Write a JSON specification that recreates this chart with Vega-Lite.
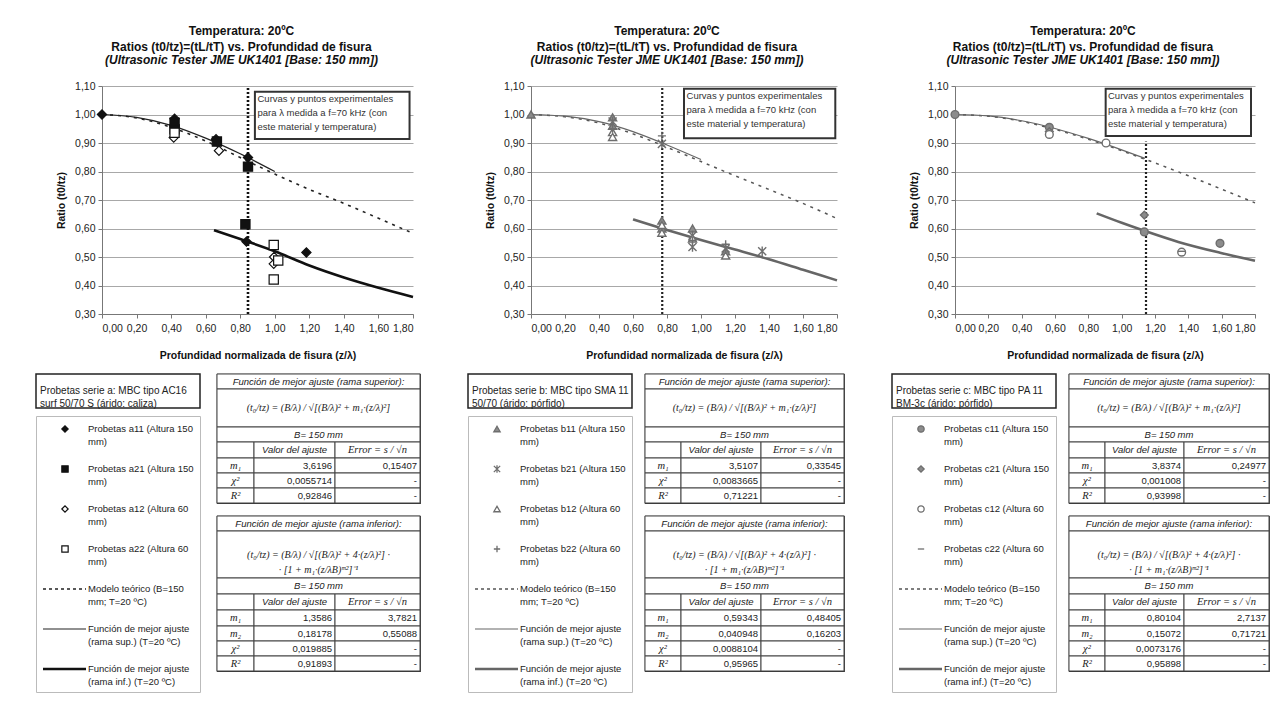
{
"$schema": "https://vega.github.io/schema/vega-lite/v6.json",
"background": "white",
"padding": {"left": 33, "top": 24, "right": 5, "bottom": 5},
"config": {
  "font": "Liberation Sans",
  "view": {"stroke": null},
  "axis": {"labelFont": "Liberation Sans", "labelFontSize": 10.5, "labelColor": "#222", "labelOverlap": false, "tickCount": 20, "titleFont": "Liberation Sans", "titleFontSize": 10.5, "titleFontWeight": "bold", "titleColor": "#111", "domainColor": "#777", "tickColor": "#777", "tickSize": 4, "gridColor": "#a8a8a8", "gridWidth": 1},
  "axisX": {"grid": false, "labelPadding": 5, "titlePadding": 17},
  "axisY": {"grid": true, "labelPadding": 3, "titlePadding": 8},
  "title": {"font": "Liberation Sans", "fontSize": 12, "fontWeight": "bold", "color": "#111", "lineHeight": 16, "subtitleFont": "Liberation Sans", "subtitleFontSize": 12, "subtitleFontWeight": "bold", "subtitleFontStyle": "italic", "subtitleColor": "#111", "subtitlePadding": 1, "subtitleLineHeight": 15, "offset": 14},
  "text": {"font": "Liberation Sans", "fontSize": 9.5, "color": "#222"}
},
"datasets": {
  "pts": [
    {"p":"a","s":"a11","z":0,"r":1.0},
    {"p":"a","s":"a11","z":0.42,"r":0.985},
    {"p":"a","s":"a11","z":0.42,"r":0.96},
    {"p":"a","s":"a11","z":0.66,"r":0.913},
    {"p":"a","s":"a11","z":0.845,"r":0.849},
    {"p":"a","s":"a11","z":0.836,"r":0.554},
    {"p":"a","s":"a11","z":1.183,"r":0.516},
    {"p":"a","s":"a21","z":0.42,"r":0.971},
    {"p":"a","s":"a21","z":0.42,"r":0.948},
    {"p":"a","s":"a21","z":0.665,"r":0.905},
    {"p":"a","s":"a21","z":0.845,"r":0.817},
    {"p":"a","s":"a21","z":0.83,"r":0.615},
    {"p":"a","s":"a12","z":0.415,"r":0.919},
    {"p":"a","s":"a12","z":0.677,"r":0.873},
    {"p":"a","s":"a12","z":0.994,"r":0.476},
    {"p":"a","s":"a12","z":0.996,"r":0.5},
    {"p":"a","s":"a22","z":0.42,"r":0.936},
    {"p":"a","s":"a22","z":0.994,"r":0.542},
    {"p":"a","s":"a22","z":0.994,"r":0.421},
    {"p":"a","s":"a22","z":1.02,"r":0.488},
    {"p":"b","s":"b11","z":0,"r":1.0},
    {"p":"b","s":"b11","z":0.48,"r":0.99},
    {"p":"b","s":"b11","z":0.48,"r":0.96},
    {"p":"b","s":"b11","z":0.77,"r":0.628},
    {"p":"b","s":"b11","z":0.77,"r":0.6},
    {"p":"b","s":"b11","z":0.95,"r":0.6},
    {"p":"b","s":"b11","z":1.145,"r":0.52},
    {"p":"b","s":"b21","z":0.48,"r":0.975},
    {"p":"b","s":"b21","z":0.77,"r":0.897},
    {"p":"b","s":"b21","z":0.95,"r":0.575},
    {"p":"b","s":"b21","z":0.95,"r":0.535},
    {"p":"b","s":"b21","z":1.145,"r":0.53},
    {"p":"b","s":"b21","z":1.36,"r":0.52},
    {"p":"b","s":"b12","z":0.48,"r":0.938},
    {"p":"b","s":"b12","z":0.48,"r":0.921},
    {"p":"b","s":"b12","z":0.77,"r":0.612},
    {"p":"b","s":"b12","z":0.77,"r":0.585},
    {"p":"b","s":"b12","z":0.95,"r":0.565},
    {"p":"b","s":"b12","z":1.145,"r":0.505},
    {"p":"b","s":"b22","z":0.48,"r":0.95},
    {"p":"b","s":"b22","z":0.77,"r":0.925},
    {"p":"b","s":"b22","z":0.95,"r":0.558},
    {"p":"b","s":"b22","z":1.145,"r":0.545},
    {"p":"c","s":"c11","z":0,"r":1.0},
    {"p":"c","s":"c11","z":0.566,"r":0.955},
    {"p":"c","s":"c11","z":1.136,"r":0.588},
    {"p":"c","s":"c11","z":1.59,"r":0.548},
    {"p":"c","s":"c21","z":0.566,"r":0.94},
    {"p":"c","s":"c21","z":1.136,"r":0.647},
    {"p":"c","s":"c12","z":0.566,"r":0.93},
    {"p":"c","s":"c12","z":0.906,"r":0.9},
    {"p":"c","s":"c12","z":1.36,"r":0.517},
    {"p":"c","s":"c22","z":1.36,"r":0.52}
  ],
  "curves": [
    {"p":"a","c":"model","z":0,"r":1.0},{"p":"a","c":"model","z":0.2,"r":0.988},{"p":"a","c":"model","z":0.4,"r":0.955},{"p":"a","c":"model","z":0.6,"r":0.907},{"p":"a","c":"model","z":0.8,"r":0.849},{"p":"a","c":"model","z":1.0,"r":0.791},{"p":"a","c":"model","z":1.2,"r":0.737},{"p":"a","c":"model","z":1.4,"r":0.688},{"p":"a","c":"model","z":1.6,"r":0.636},{"p":"a","c":"model","z":1.8,"r":0.583},
    {"p":"a","c":"sup","z":0,"r":1.0},{"p":"a","c":"sup","z":0.2,"r":0.99},{"p":"a","c":"sup","z":0.4,"r":0.962},{"p":"a","c":"sup","z":0.6,"r":0.917},{"p":"a","c":"sup","z":0.8,"r":0.862},{"p":"a","c":"sup","z":1.0,"r":0.8},
    {"p":"a","c":"inf","z":0.648,"r":0.594},{"p":"a","c":"inf","z":0.8,"r":0.563},{"p":"a","c":"inf","z":1.0,"r":0.52},{"p":"a","c":"inf","z":1.2,"r":0.47},{"p":"a","c":"inf","z":1.4,"r":0.428},{"p":"a","c":"inf","z":1.6,"r":0.392},{"p":"a","c":"inf","z":1.8,"r":0.36},
    {"p":"a","c":"vline","z":0.845,"r":0.3},{"p":"a","c":"vline","z":0.845,"r":1.1},
    {"p":"b","c":"model","z":0,"r":1.0},{"p":"b","c":"model","z":0.2,"r":0.992},{"p":"b","c":"model","z":0.4,"r":0.97},{"p":"b","c":"model","z":0.6,"r":0.932},{"p":"b","c":"model","z":0.8,"r":0.885},{"p":"b","c":"model","z":1.0,"r":0.835},{"p":"b","c":"model","z":1.2,"r":0.785},{"p":"b","c":"model","z":1.4,"r":0.737},{"p":"b","c":"model","z":1.6,"r":0.688},{"p":"b","c":"model","z":1.8,"r":0.635},
    {"p":"b","c":"sup","z":0,"r":1.0},{"p":"b","c":"sup","z":0.2,"r":0.994},{"p":"b","c":"sup","z":0.4,"r":0.975},{"p":"b","c":"sup","z":0.6,"r":0.94},{"p":"b","c":"sup","z":0.8,"r":0.893},{"p":"b","c":"sup","z":1.0,"r":0.842},
    {"p":"b","c":"inf","z":0.6,"r":0.632},{"p":"b","c":"inf","z":0.8,"r":0.595},{"p":"b","c":"inf","z":1.0,"r":0.56},{"p":"b","c":"inf","z":1.2,"r":0.526},{"p":"b","c":"inf","z":1.4,"r":0.492},{"p":"b","c":"inf","z":1.6,"r":0.455},{"p":"b","c":"inf","z":1.8,"r":0.418},
    {"p":"b","c":"vline","z":0.772,"r":0.3},{"p":"b","c":"vline","z":0.772,"r":1.1},
    {"p":"c","c":"model","z":0,"r":1.0},{"p":"c","c":"model","z":0.2,"r":0.994},{"p":"c","c":"model","z":0.4,"r":0.976},{"p":"c","c":"model","z":0.6,"r":0.948},{"p":"c","c":"model","z":0.8,"r":0.913},{"p":"c","c":"model","z":1.0,"r":0.873},{"p":"c","c":"model","z":1.2,"r":0.83},{"p":"c","c":"model","z":1.4,"r":0.785},{"p":"c","c":"model","z":1.6,"r":0.738},{"p":"c","c":"model","z":1.8,"r":0.69},
    {"p":"c","c":"sup","z":0,"r":1.0},{"p":"c","c":"sup","z":0.2,"r":0.995},{"p":"c","c":"sup","z":0.4,"r":0.978},{"p":"c","c":"sup","z":0.6,"r":0.951},{"p":"c","c":"sup","z":0.8,"r":0.916},{"p":"c","c":"sup","z":1.0,"r":0.876},{"p":"c","c":"sup","z":1.14,"r":0.846},
    {"p":"c","c":"inf","z":0.85,"r":0.653},{"p":"c","c":"inf","z":1.0,"r":0.62},{"p":"c","c":"inf","z":1.136,"r":0.592},{"p":"c","c":"inf","z":1.34,"r":0.553},{"p":"c","c":"inf","z":1.59,"r":0.515},{"p":"c","c":"inf","z":1.8,"r":0.487},
    {"p":"c","c":"vline","z":1.146,"r":0.3},{"p":"c","c":"vline","z":1.146,"r":0.905}
  ],
  "ser": [
    {"p":"a","txt":"Probetas serie a: MBC tipo AC16\nsurf 50/70 S (árido: caliza)"},
    {"p":"b","txt":"Probetas serie b: MBC tipo SMA 11\n50/70 (árido: pórfido)"},
    {"p":"c","txt":"Probetas serie c: MBC tipo PA 11\nBM-3c (árido: pórfido)"}
  ],
  "leg": [
    {"p":"a","k":"a11","txt":"Probetas a11 (Altura 150\nmm)"},
    {"p":"a","k":"a21","txt":"Probetas a21 (Altura 150\nmm)"},
    {"p":"a","k":"a12","txt":"Probetas a12 (Altura 60\nmm)"},
    {"p":"a","k":"a22","txt":"Probetas a22 (Altura 60\nmm)"},
    {"p":"b","k":"b11","txt":"Probetas b11 (Altura 150\nmm)"},
    {"p":"b","k":"b21","txt":"Probetas b21 (Altura 150\nmm)"},
    {"p":"b","k":"b12","txt":"Probetas b12 (Altura 60\nmm)"},
    {"p":"b","k":"b22","txt":"Probetas b22 (Altura 60\nmm)"},
    {"p":"c","k":"c11","txt":"Probetas c11 (Altura 150\nmm)"},
    {"p":"c","k":"c21","txt":"Probetas c21 (Altura 150\nmm)"},
    {"p":"c","k":"c12","txt":"Probetas c12 (Altura 60\nmm)"},
    {"p":"c","k":"c22","txt":"Probetas c22 (Altura 60\nmm)"},
    {"p":"*","k":"model","txt":"Modelo teórico (B=150\nmm; T=20 ºC)"},
    {"p":"*","k":"sup","txt":"Función de mejor ajuste\n(rama sup.) (T=20 ºC)"},
    {"p":"*","k":"inf","txt":"Función de mejor ajuste\n(rama inf.) (T=20 ºC)"}
  ],
  "tab": [
    {"p":"*","t":1,"r0":0,"r1":1,"c0":0,"c1":3,"kind":"hdr","txt":"Función de mejor ajuste (rama superior):"},
    {"p":"*","t":1,"r0":1,"r1":2,"c0":0,"c1":3,"kind":"fml","txt":"(t₀/tz) = (B/λ) / √[(B/λ)² + m₁·(z/λ)²]"},
    {"p":"*","t":1,"r0":2,"r1":3,"c0":0,"c1":3,"kind":"hdr","txt":"B= 150 mm"},
    {"p":"*","t":1,"r0":3,"r1":4,"c0":0,"c1":1,"kind":"sym","txt":""},
    {"p":"*","t":1,"r0":3,"r1":4,"c0":1,"c1":2,"kind":"hdr2","txt":"Valor del ajuste"},
    {"p":"*","t":1,"r0":3,"r1":4,"c0":2,"c1":3,"kind":"sym","txt":"Error = s / √n"},
    {"p":"*","t":1,"r0":4,"r1":5,"c0":0,"c1":1,"kind":"sym","txt":"m₁"},
    {"p":"*","t":1,"r0":5,"r1":6,"c0":0,"c1":1,"kind":"sym","txt":"χ²"},
    {"p":"*","t":1,"r0":6,"r1":7,"c0":0,"c1":1,"kind":"sym","txt":"R²"},
    {"p":"*","t":2,"r0":0,"r1":1,"c0":0,"c1":3,"kind":"hdr","txt":"Función de mejor ajuste (rama inferior):"},
    {"p":"*","t":2,"r0":1,"r1":2,"c0":0,"c1":3,"kind":"fml","txt":"(t₀/tz) = (B/λ) / √[(B/λ)² + 4·(z/λ)²] ·\n· [1 + m₁·(z/λB)ᵐ²]⁻¹"},
    {"p":"*","t":2,"r0":2,"r1":3,"c0":0,"c1":3,"kind":"hdr","txt":"B= 150 mm"},
    {"p":"*","t":2,"r0":3,"r1":4,"c0":0,"c1":1,"kind":"sym","txt":""},
    {"p":"*","t":2,"r0":3,"r1":4,"c0":1,"c1":2,"kind":"hdr2","txt":"Valor del ajuste"},
    {"p":"*","t":2,"r0":3,"r1":4,"c0":2,"c1":3,"kind":"sym","txt":"Error = s / √n"},
    {"p":"*","t":2,"r0":4,"r1":5,"c0":0,"c1":1,"kind":"sym","txt":"m₁"},
    {"p":"*","t":2,"r0":5,"r1":6,"c0":0,"c1":1,"kind":"sym","txt":"m₂"},
    {"p":"*","t":2,"r0":6,"r1":7,"c0":0,"c1":1,"kind":"sym","txt":"χ²"},
    {"p":"*","t":2,"r0":7,"r1":8,"c0":0,"c1":1,"kind":"sym","txt":"R²"},
    {"p":"a","t":1,"r0":4,"r1":5,"c0":1,"c1":2,"kind":"num","txt":"3,6196"},
    {"p":"a","t":1,"r0":4,"r1":5,"c0":2,"c1":3,"kind":"num","txt":"0,15407"},
    {"p":"a","t":1,"r0":5,"r1":6,"c0":1,"c1":2,"kind":"num","txt":"0,0055714"},
    {"p":"a","t":1,"r0":5,"r1":6,"c0":2,"c1":3,"kind":"num","txt":"-"},
    {"p":"a","t":1,"r0":6,"r1":7,"c0":1,"c1":2,"kind":"num","txt":"0,92846"},
    {"p":"a","t":1,"r0":6,"r1":7,"c0":2,"c1":3,"kind":"num","txt":"-"},
    {"p":"a","t":2,"r0":4,"r1":5,"c0":1,"c1":2,"kind":"num","txt":"1,3586"},
    {"p":"a","t":2,"r0":4,"r1":5,"c0":2,"c1":3,"kind":"num","txt":"3,7821"},
    {"p":"a","t":2,"r0":5,"r1":6,"c0":1,"c1":2,"kind":"num","txt":"0,18178"},
    {"p":"a","t":2,"r0":5,"r1":6,"c0":2,"c1":3,"kind":"num","txt":"0,55088"},
    {"p":"a","t":2,"r0":6,"r1":7,"c0":1,"c1":2,"kind":"num","txt":"0,019885"},
    {"p":"a","t":2,"r0":6,"r1":7,"c0":2,"c1":3,"kind":"num","txt":"-"},
    {"p":"a","t":2,"r0":7,"r1":8,"c0":1,"c1":2,"kind":"num","txt":"0,91893"},
    {"p":"a","t":2,"r0":7,"r1":8,"c0":2,"c1":3,"kind":"num","txt":"-"},
    {"p":"b","t":1,"r0":4,"r1":5,"c0":1,"c1":2,"kind":"num","txt":"3,5107"},
    {"p":"b","t":1,"r0":4,"r1":5,"c0":2,"c1":3,"kind":"num","txt":"0,33545"},
    {"p":"b","t":1,"r0":5,"r1":6,"c0":1,"c1":2,"kind":"num","txt":"0,0083665"},
    {"p":"b","t":1,"r0":5,"r1":6,"c0":2,"c1":3,"kind":"num","txt":"-"},
    {"p":"b","t":1,"r0":6,"r1":7,"c0":1,"c1":2,"kind":"num","txt":"0,71221"},
    {"p":"b","t":1,"r0":6,"r1":7,"c0":2,"c1":3,"kind":"num","txt":"-"},
    {"p":"b","t":2,"r0":4,"r1":5,"c0":1,"c1":2,"kind":"num","txt":"0,59343"},
    {"p":"b","t":2,"r0":4,"r1":5,"c0":2,"c1":3,"kind":"num","txt":"0,48405"},
    {"p":"b","t":2,"r0":5,"r1":6,"c0":1,"c1":2,"kind":"num","txt":"0,040948"},
    {"p":"b","t":2,"r0":5,"r1":6,"c0":2,"c1":3,"kind":"num","txt":"0,16203"},
    {"p":"b","t":2,"r0":6,"r1":7,"c0":1,"c1":2,"kind":"num","txt":"0,0088104"},
    {"p":"b","t":2,"r0":6,"r1":7,"c0":2,"c1":3,"kind":"num","txt":"-"},
    {"p":"b","t":2,"r0":7,"r1":8,"c0":1,"c1":2,"kind":"num","txt":"0,95965"},
    {"p":"b","t":2,"r0":7,"r1":8,"c0":2,"c1":3,"kind":"num","txt":"-"},
    {"p":"c","t":1,"r0":4,"r1":5,"c0":1,"c1":2,"kind":"num","txt":"3,8374"},
    {"p":"c","t":1,"r0":4,"r1":5,"c0":2,"c1":3,"kind":"num","txt":"0,24977"},
    {"p":"c","t":1,"r0":5,"r1":6,"c0":1,"c1":2,"kind":"num","txt":"0,001008"},
    {"p":"c","t":1,"r0":5,"r1":6,"c0":2,"c1":3,"kind":"num","txt":"-"},
    {"p":"c","t":1,"r0":6,"r1":7,"c0":1,"c1":2,"kind":"num","txt":"0,93998"},
    {"p":"c","t":1,"r0":6,"r1":7,"c0":2,"c1":3,"kind":"num","txt":"-"},
    {"p":"c","t":2,"r0":4,"r1":5,"c0":1,"c1":2,"kind":"num","txt":"0,80104"},
    {"p":"c","t":2,"r0":4,"r1":5,"c0":2,"c1":3,"kind":"num","txt":"2,7137"},
    {"p":"c","t":2,"r0":5,"r1":6,"c0":1,"c1":2,"kind":"num","txt":"0,15072"},
    {"p":"c","t":2,"r0":5,"r1":6,"c0":2,"c1":3,"kind":"num","txt":"0,71721"},
    {"p":"c","t":2,"r0":6,"r1":7,"c0":1,"c1":2,"kind":"num","txt":"0,0073176"},
    {"p":"c","t":2,"r0":6,"r1":7,"c0":2,"c1":3,"kind":"num","txt":"-"},
    {"p":"c","t":2,"r0":7,"r1":8,"c0":1,"c1":2,"kind":"num","txt":"0,95898"},
    {"p":"c","t":2,"r0":7,"r1":8,"c0":2,"c1":3,"kind":"num","txt":"-"}
  ]
},
"spacing": 11,
"vconcat": [
{
"spacing": 66,
"hconcat": [
{
"spacing": 16,
"hconcat": [
{"width": 1, "height": 1, "view": {"stroke": "white"}, "data": {"values": [{}]}, "mark": {"type": "point", "opacity": 0}, "encoding": {}},
{
 "width": 311, "height": 228,
 "title": {"text": ["Temperatura: 20ºC", "Ratios (t0/tz)=(tL/tT) vs. Profundidad de fisura"], "subtitle": "(Ultrasonic Tester JME UK1401 [Base: 150 mm])", "dx": -16},
 "layer": [
  {"data": {"name": "curves"}, "transform": [{"filter": "datum.p == 'a' && datum.c == 'model'"}],
   "mark": {"type": "line", "color": "#222", "strokeWidth": 1.6, "strokeDash": [3, 5], "interpolate": "monotone"},
   "encoding": {
     "x": {"field": "z", "type": "quantitative", "scale": {"domain": [0, 1.8], "nice": false, "zero": false}, "axis": {"values": [0,0.2,0.4,0.6,0.8,1,1.2,1.4,1.6,1.8], "tickCount": 20, "labelExpr": "replace(format(datum.value, '.2f'), '.', ',')", "title": "Profundidad normalizada de fisura (z/λ)"}},
     "y": {"field": "r", "type": "quantitative", "scale": {"domain": [0.3, 1.1], "nice": false, "zero": false}, "axis": {"values": [0.3,0.4,0.5,0.6,0.7,0.8,0.9,1,1.1], "tickCount": 20, "labelExpr": "replace(format(datum.value, '.2f'), '.', ',')", "title": "Ratio (t0/tz)"}}
   }},
  {"data": {"name": "curves"}, "transform": [{"filter": "datum.p == 'a' && datum.c == 'sup'"}],
   "mark": {"type": "line", "color": "#222", "strokeWidth": 1.2, "interpolate": "monotone"},
   "encoding": {"x": {"field": "z", "type": "quantitative"}, "y": {"field": "r", "type": "quantitative"}}},
  {"data": {"name": "curves"}, "transform": [{"filter": "datum.p == 'a' && datum.c == 'inf'"}],
   "mark": {"type": "line", "color": "#111", "strokeWidth": 2.6, "interpolate": "monotone"},
   "encoding": {"x": {"field": "z", "type": "quantitative"}, "y": {"field": "r", "type": "quantitative"}}},
  {"data": {"name": "curves"}, "transform": [{"filter": "datum.p == 'a' && datum.c == 'vline'"}],
   "mark": {"type": "line", "color": "#111", "strokeWidth": 2.6, "strokeDash": [2, 2]},
   "encoding": {"x": {"field": "z", "type": "quantitative"}, "y": {"field": "r", "type": "quantitative"}}},
  {"data": {"name": "pts"}, "transform": [{"filter": "datum.p == 'a'"}],
   "mark": {"type": "point", "filled": true, "size": 85, "strokeWidth": 1.2, "opacity": 1},
   "encoding": {"x": {"field": "z", "type": "quantitative"}, "y": {"field": "r", "type": "quantitative"},
     "shape": {"field": "s", "type": "nominal", "legend": null, "scale": {"domain": ["a11","a21","a12","a22","b11","b21","b12","b22","c11","c21","c12","c22"], "range": ["diamond","square","diamond","square","triangle-up","M-1,-1L1,1M1,-1L-1,1M0,-1.2V1.2","triangle-up","M-1,0H1M0,-1V1","circle","diamond","circle","stroke"]}},
     "fill": {"field": "s", "type": "nominal", "legend": null, "scale": {"domain": ["a11","a21","a12","a22","b11","b21","b12","b22","c11","c21","c12","c22"], "range": ["#111111","#111111","#ffffff","#ffffff","#8c8c8c","transparent","#ffffff","transparent","#8c8c8c","#8c8c8c","#ffffff","transparent"]}},
     "stroke": {"field": "s", "type": "nominal", "legend": null, "scale": {"domain": ["a11","a21","a12","a22","b11","b21","b12","b22","c11","c21","c12","c22"], "range": ["#111111","#111111","#111111","#111111","#6e6e6e","#6e6e6e","#6e6e6e","#6e6e6e","#6e6e6e","#6e6e6e","#6e6e6e","#6e6e6e"]}}}},
  {"data": {"values": [{}]}, "mark": {"type": "rect", "fill": "white", "stroke": "#333", "strokeWidth": 2},
   "encoding": {"x": {"datum": 0.885, "type": "quantitative"}, "x2": {"datum": 1.78}, "y": {"datum": 1.08, "type": "quantitative"}, "y2": {"datum": 0.914}}},
  {"data": {"values": [{}]}, "mark": {"type": "text", "text": ["Curvas y puntos experimentales", "para λ medida a f=70 kHz (con", "este material y temperatura)"], "align": "left", "baseline": "top", "fontSize": 9.5, "lineHeight": 14, "color": "#333"},
   "encoding": {"x": {"datum": 0.9, "type": "quantitative"}, "y": {"datum": 1.073, "type": "quantitative"}}}
 ]
}
]
},
{
 "width": 306, "height": 228,
 "title": {"text": ["Temperatura: 20ºC", "Ratios (t0/tz)=(tL/tT) vs. Profundidad de fisura"], "subtitle": "(Ultrasonic Tester JME UK1401 [Base: 150 mm])", "dx": -17},
 "layer": [
  {"data": {"name": "curves"}, "transform": [{"filter": "datum.p == 'b' && datum.c == 'model'"}],
   "mark": {"type": "line", "color": "#555", "strokeWidth": 1.5, "strokeDash": [3, 5], "interpolate": "monotone"},
   "encoding": {
     "x": {"field": "z", "type": "quantitative", "scale": {"domain": [0, 1.8], "nice": false, "zero": false}, "axis": {"values": [0,0.2,0.4,0.6,0.8,1,1.2,1.4,1.6,1.8], "tickCount": 20, "labelExpr": "replace(format(datum.value, '.2f'), '.', ',')", "title": "Profundidad normalizada de fisura (z/λ)"}},
     "y": {"field": "r", "type": "quantitative", "scale": {"domain": [0.3, 1.1], "nice": false, "zero": false}, "axis": {"values": [0.3,0.4,0.5,0.6,0.7,0.8,0.9,1,1.1], "tickCount": 20, "labelExpr": "replace(format(datum.value, '.2f'), '.', ',')", "title": "Ratio (t0/tz)"}}
   }},
  {"data": {"name": "curves"}, "transform": [{"filter": "datum.p == 'b' && datum.c == 'sup'"}],
   "mark": {"type": "line", "color": "#666", "strokeWidth": 1.2, "interpolate": "monotone"},
   "encoding": {"x": {"field": "z", "type": "quantitative"}, "y": {"field": "r", "type": "quantitative"}}},
  {"data": {"name": "curves"}, "transform": [{"filter": "datum.p == 'b' && datum.c == 'inf'"}],
   "mark": {"type": "line", "color": "#666", "strokeWidth": 2.6, "interpolate": "monotone"},
   "encoding": {"x": {"field": "z", "type": "quantitative"}, "y": {"field": "r", "type": "quantitative"}}},
  {"data": {"name": "curves"}, "transform": [{"filter": "datum.p == 'b' && datum.c == 'vline'"}],
   "mark": {"type": "line", "color": "#222", "strokeWidth": 2.2, "strokeDash": [2, 2]},
   "encoding": {"x": {"field": "z", "type": "quantitative"}, "y": {"field": "r", "type": "quantitative"}}},
  {"data": {"name": "pts"}, "transform": [{"filter": "datum.p == 'b'"}],
   "mark": {"type": "point", "filled": true, "size": 65, "strokeWidth": 1.4, "opacity": 1},
   "encoding": {"x": {"field": "z", "type": "quantitative"}, "y": {"field": "r", "type": "quantitative"},
     "shape": {"field": "s", "type": "nominal", "legend": null, "scale": {"domain": ["a11","a21","a12","a22","b11","b21","b12","b22","c11","c21","c12","c22"], "range": ["diamond","square","diamond","square","triangle-up","M-1,-1L1,1M1,-1L-1,1M0,-1.2V1.2","triangle-up","M-1,0H1M0,-1V1","circle","diamond","circle","stroke"]}},
     "fill": {"field": "s", "type": "nominal", "legend": null, "scale": {"domain": ["a11","a21","a12","a22","b11","b21","b12","b22","c11","c21","c12","c22"], "range": ["#111111","#111111","#ffffff","#ffffff","#8c8c8c","transparent","#ffffff","transparent","#8c8c8c","#8c8c8c","#ffffff","transparent"]}},
     "stroke": {"field": "s", "type": "nominal", "legend": null, "scale": {"domain": ["a11","a21","a12","a22","b11","b21","b12","b22","c11","c21","c12","c22"], "range": ["#111111","#111111","#111111","#111111","#6e6e6e","#6e6e6e","#6e6e6e","#6e6e6e","#6e6e6e","#6e6e6e","#6e6e6e","#6e6e6e"]}}}},
  {"data": {"values": [{}]}, "mark": {"type": "rect", "fill": "white", "stroke": "#333", "strokeWidth": 2},
   "encoding": {"x": {"datum": 0.9, "type": "quantitative"}, "x2": {"datum": 1.79}, "y": {"datum": 1.09, "type": "quantitative"}, "y2": {"datum": 0.917}}},
  {"data": {"values": [{}]}, "mark": {"type": "text", "text": ["Curvas y puntos experimentales", "para λ medida a f=70 kHz (con", "este material y temperatura)"], "align": "left", "baseline": "top", "fontSize": 9.5, "lineHeight": 14, "color": "#333"},
   "encoding": {"x": {"datum": 0.915, "type": "quantitative"}, "y": {"datum": 1.082, "type": "quantitative"}}}
 ]
},
{
 "width": 300, "height": 228,
 "title": {"text": ["Temperatura: 20ºC", "Ratios (t0/tz)=(tL/tT) vs. Profundidad de fisura"], "subtitle": "(Ultrasonic Tester JME UK1401 [Base: 150 mm])", "dx": -22},
 "layer": [
  {"data": {"name": "curves"}, "transform": [{"filter": "datum.p == 'c' && datum.c == 'model'"}],
   "mark": {"type": "line", "color": "#555", "strokeWidth": 1.5, "strokeDash": [3, 5], "interpolate": "monotone"},
   "encoding": {
     "x": {"field": "z", "type": "quantitative", "scale": {"domain": [0, 1.8], "nice": false, "zero": false}, "axis": {"values": [0,0.2,0.4,0.6,0.8,1,1.2,1.4,1.6,1.8], "tickCount": 20, "labelExpr": "replace(format(datum.value, '.2f'), '.', ',')", "title": "Profundidad normalizada de fisura (z/λ)"}},
     "y": {"field": "r", "type": "quantitative", "scale": {"domain": [0.3, 1.1], "nice": false, "zero": false}, "axis": {"values": [0.3,0.4,0.5,0.6,0.7,0.8,0.9,1,1.1], "tickCount": 20, "labelExpr": "replace(format(datum.value, '.2f'), '.', ',')", "title": "Ratio (t0/tz)"}}
   }},
  {"data": {"name": "curves"}, "transform": [{"filter": "datum.p == 'c' && datum.c == 'sup'"}],
   "mark": {"type": "line", "color": "#666", "strokeWidth": 1.2, "interpolate": "monotone"},
   "encoding": {"x": {"field": "z", "type": "quantitative"}, "y": {"field": "r", "type": "quantitative"}}},
  {"data": {"name": "curves"}, "transform": [{"filter": "datum.p == 'c' && datum.c == 'inf'"}],
   "mark": {"type": "line", "color": "#666", "strokeWidth": 2.6, "interpolate": "monotone"},
   "encoding": {"x": {"field": "z", "type": "quantitative"}, "y": {"field": "r", "type": "quantitative"}}},
  {"data": {"name": "curves"}, "transform": [{"filter": "datum.p == 'c' && datum.c == 'vline'"}],
   "mark": {"type": "line", "color": "#222", "strokeWidth": 2.2, "strokeDash": [2, 2]},
   "encoding": {"x": {"field": "z", "type": "quantitative"}, "y": {"field": "r", "type": "quantitative"}}},
  {"data": {"name": "pts"}, "transform": [{"filter": "datum.p == 'c'"}],
   "mark": {"type": "point", "filled": true, "size": 60, "strokeWidth": 1.4, "opacity": 1},
   "encoding": {"x": {"field": "z", "type": "quantitative"}, "y": {"field": "r", "type": "quantitative"},
     "shape": {"field": "s", "type": "nominal", "legend": null, "scale": {"domain": ["a11","a21","a12","a22","b11","b21","b12","b22","c11","c21","c12","c22"], "range": ["diamond","square","diamond","square","triangle-up","M-1,-1L1,1M1,-1L-1,1M0,-1.2V1.2","triangle-up","M-1,0H1M0,-1V1","circle","diamond","circle","stroke"]}},
     "fill": {"field": "s", "type": "nominal", "legend": null, "scale": {"domain": ["a11","a21","a12","a22","b11","b21","b12","b22","c11","c21","c12","c22"], "range": ["#111111","#111111","#ffffff","#ffffff","#8c8c8c","transparent","#ffffff","transparent","#8c8c8c","#8c8c8c","#ffffff","transparent"]}},
     "stroke": {"field": "s", "type": "nominal", "legend": null, "scale": {"domain": ["a11","a21","a12","a22","b11","b21","b12","b22","c11","c21","c12","c22"], "range": ["#111111","#111111","#111111","#111111","#6e6e6e","#6e6e6e","#6e6e6e","#6e6e6e","#6e6e6e","#6e6e6e","#6e6e6e","#6e6e6e"]}}}},
  {"data": {"values": [{}]}, "mark": {"type": "rect", "fill": "white", "stroke": "#333", "strokeWidth": 2},
   "encoding": {"x": {"datum": 0.904, "type": "quantitative"}, "x2": {"datum": 1.776}, "y": {"datum": 1.09, "type": "quantitative"}, "y2": {"datum": 0.925}}},
  {"data": {"values": [{}]}, "mark": {"type": "text", "text": ["Curvas y puntos experimentales", "para λ medida a f=70 kHz (con", "este material y temperatura)"], "align": "left", "baseline": "top", "fontSize": 9.5, "lineHeight": 14, "color": "#333"},
   "encoding": {"x": {"datum": 0.918, "type": "quantitative"}, "y": {"datum": 1.083, "type": "quantitative"}}}
 ]
}
]
},
{
"spacing": 45,
"hconcat": [
 {"spacing": 14, "hconcat": [
  {"spacing": 5, "vconcat": [
   {"width": 164, "height": 34, "view": {"stroke": "#222", "strokeWidth": 1.5}, "data": {"name": "ser"}, "transform": [{"filter": "datum.p == 'a'"}],
    "mark": {"type": "text", "align": "left", "baseline": "middle", "lineBreak": "\n", "lineHeight": 13, "fontSize": 10},
    "encoding": {"x": {"datum": 4, "type": "quantitative", "scale": {"domain": [0, 164], "range": [0, 164], "nice": false, "zero": false}, "axis": null}, "text": {"field": "txt"}}},
   {"width": 164, "height": 276, "view": {"stroke": "#bbb", "strokeWidth": 1}, "data": {"name": "leg"}, "transform": [{"filter": "datum.p == 'a' || datum.p == '*'"}],
    "layer": [
     {"transform": [{"filter": "datum.p != '*'"}], "mark": {"type": "point", "filled": true, "size": 40, "strokeWidth": 1.2, "opacity": 1},
      "encoding": {"x": {"datum": 29, "type": "quantitative", "scale": {"domain": [0, 164], "range": [0, 164], "nice": false, "zero": false}, "axis": null},
       "y": {"field": "k", "type": "nominal", "scale": {"type": "point", "domain": ["a11","a21","a12","a22","model","sup","inf"], "range": [13, 253], "padding": 0}, "axis": null},
       "shape": {"field": "k", "type": "nominal", "legend": null, "scale": {"domain": ["a11","a21","a12","a22","b11","b21","b12","b22","c11","c21","c12","c22"], "range": ["diamond","square","diamond","square","triangle-up","M-1,-1L1,1M1,-1L-1,1M0,-1.2V1.2","triangle-up","M-1,0H1M0,-1V1","circle","diamond","circle","stroke"]}},
       "fill": {"field": "k", "type": "nominal", "legend": null, "scale": {"domain": ["a11","a21","a12","a22","b11","b21","b12","b22","c11","c21","c12","c22"], "range": ["#111111","#111111","#ffffff","#ffffff","#8c8c8c","transparent","#ffffff","transparent","#8c8c8c","#8c8c8c","#ffffff","transparent"]}},
       "stroke": {"field": "k", "type": "nominal", "legend": null, "scale": {"domain": ["a11","a21","a12","a22","b11","b21","b12","b22","c11","c21","c12","c22"], "range": ["#111111","#111111","#111111","#111111","#6e6e6e","#6e6e6e","#6e6e6e","#6e6e6e","#6e6e6e","#6e6e6e","#6e6e6e","#6e6e6e"]}}}},
     {"transform": [{"filter": "datum.k == 'model'"}], "mark": {"type": "rule", "color": "#222", "strokeWidth": 1.6, "strokeDash": [3, 3]},
      "encoding": {"x": {"datum": 7, "type": "quantitative"}, "x2": {"datum": 50}, "y": {"field": "k", "type": "nominal"}}},
     {"transform": [{"filter": "datum.k == 'sup'"}], "mark": {"type": "rule", "color": "#222", "strokeWidth": 1.1},
      "encoding": {"x": {"datum": 7, "type": "quantitative"}, "x2": {"datum": 50}, "y": {"field": "k", "type": "nominal"}}},
     {"transform": [{"filter": "datum.k == 'inf'"}], "mark": {"type": "rule", "color": "#111", "strokeWidth": 2.6},
      "encoding": {"x": {"datum": 7, "type": "quantitative"}, "x2": {"datum": 50}, "y": {"field": "k", "type": "nominal"}}},
     {"mark": {"type": "text", "align": "left", "baseline": "top", "dy": -5, "lineBreak": "\n", "lineHeight": 12.5, "fontSize": 9.5},
      "encoding": {"x": {"datum": 52, "type": "quantitative"}, "y": {"field": "k", "type": "nominal"}, "text": {"field": "txt"}}}
    ]}
  ]},
  {"spacing": 9, "vconcat": [
   {"width": 203, "height": 129, "view": {"stroke": "#333", "strokeWidth": 1.2}, "data": {"name": "tab"}, "transform": [{"filter": "(datum.p == 'a' || datum.p == '*') && datum.t == 1"}],
    "resolve": {"scale": {"x": "independent", "y": "independent"}},
    "layer": [
     {"mark": {"type": "rect", "fill": "white", "stroke": "#444", "strokeWidth": 1},
      "encoding": {"x": {"field": "c0", "type": "quantitative", "scale": {"domain": [0,1,2,3], "range": [0,37,118,203], "nice": false, "zero": false}, "axis": null}, "x2": {"field": "c1"},
       "y": {"field": "r0", "type": "quantitative", "scale": {"domain": [0,1,2,3,4,5,6,7], "range": [0,15,53,68,84,99,114,129], "nice": false, "zero": false}, "axis": null}, "y2": {"field": "r1"}}},
     {"transform": [{"filter": "datum.kind == 'hdr'"}], "mark": {"type": "text", "fontStyle": "italic", "fontSize": 9.5, "baseline": "middle"},
      "encoding": {"y": {"field": "r0", "type": "quantitative", "scale": {"domain": [0,1,2,3,4,5,6], "range": [7.5,34,60.5,76,91.5,106.5,121.5], "nice": false, "zero": false}, "axis": null}, "text": {"field": "txt"}}},
     {"transform": [{"filter": "datum.kind == 'fml'"}], "mark": {"type": "text", "font": "Liberation Serif", "fontStyle": "italic", "fontSize": 10, "baseline": "middle", "lineBreak": "\n", "lineHeight": 14},
      "encoding": {"y": {"field": "r0", "type": "quantitative", "scale": {"domain": [0,1,2,3,4,5,6], "range": [7.5,34,60.5,76,91.5,106.5,121.5], "nice": false, "zero": false}, "axis": null}, "text": {"field": "txt"}}},
     {"transform": [{"filter": "datum.kind == 'hdr2'"}], "mark": {"type": "text", "fontStyle": "italic", "fontSize": 9.5, "baseline": "middle"},
      "encoding": {"x": {"field": "c0", "type": "quantitative", "scale": {"domain": [0,1,2], "range": [18.5,77.5,160.5], "nice": false, "zero": false}, "axis": null},
       "y": {"field": "r0", "type": "quantitative", "scale": {"domain": [0,1,2,3,4,5,6], "range": [7.5,34,60.5,76,91.5,106.5,121.5], "nice": false, "zero": false}, "axis": null}, "text": {"field": "txt"}}},
     {"transform": [{"filter": "datum.kind == 'sym'"}], "mark": {"type": "text", "font": "Liberation Serif", "fontStyle": "italic", "fontSize": 10.5, "baseline": "middle"},
      "encoding": {"x": {"field": "c0", "type": "quantitative", "scale": {"domain": [0,1,2], "range": [18.5,77.5,160.5], "nice": false, "zero": false}, "axis": null},
       "y": {"field": "r0", "type": "quantitative", "scale": {"domain": [0,1,2,3,4,5,6], "range": [7.5,34,60.5,76,91.5,106.5,121.5], "nice": false, "zero": false}, "axis": null}, "text": {"field": "txt"}}},
     {"transform": [{"filter": "datum.kind == 'num'"}], "mark": {"type": "text", "fontSize": 9.5, "align": "right", "baseline": "middle", "dx": -3},
      "encoding": {"x": {"field": "c1", "type": "quantitative", "scale": {"domain": [0,1,2,3], "range": [0,37,118,203], "nice": false, "zero": false}, "axis": null},
       "y": {"field": "r0", "type": "quantitative", "scale": {"domain": [0,1,2,3,4,5,6], "range": [7.5,34,60.5,76,91.5,106.5,121.5], "nice": false, "zero": false}, "axis": null}, "text": {"field": "txt"}}}
    ]},
   {"width": 203, "height": 155, "view": {"stroke": "#333", "strokeWidth": 1.2}, "data": {"name": "tab"}, "transform": [{"filter": "(datum.p == 'a' || datum.p == '*') && datum.t == 2"}],
    "resolve": {"scale": {"x": "independent", "y": "independent"}},
    "layer": [
     {"mark": {"type": "rect", "fill": "white", "stroke": "#444", "strokeWidth": 1},
      "encoding": {"x": {"field": "c0", "type": "quantitative", "scale": {"domain": [0,1,2,3], "range": [0,37,118,203], "nice": false, "zero": false}, "axis": null}, "x2": {"field": "c1"},
       "y": {"field": "r0", "type": "quantitative", "scale": {"domain": [0,1,2,3,4,5,6,7,8], "range": [0,15,62,78,94,110,125,140,155], "nice": false, "zero": false}, "axis": null}, "y2": {"field": "r1"}}},
     {"transform": [{"filter": "datum.kind == 'hdr'"}], "mark": {"type": "text", "fontStyle": "italic", "fontSize": 9.5, "baseline": "middle"},
      "encoding": {"y": {"field": "r0", "type": "quantitative", "scale": {"domain": [0,1,2,3,4,5,6,7], "range": [7.5,38.5,70,86,102,117.5,132.5,147.5], "nice": false, "zero": false}, "axis": null}, "text": {"field": "txt"}}},
     {"transform": [{"filter": "datum.kind == 'fml'"}], "mark": {"type": "text", "font": "Liberation Serif", "fontStyle": "italic", "fontSize": 10, "baseline": "middle", "lineBreak": "\n", "lineHeight": 15},
      "encoding": {"y": {"field": "r0", "type": "quantitative", "scale": {"domain": [0,1,2,3,4,5,6,7], "range": [7.5,38.5,70,86,102,117.5,132.5,147.5], "nice": false, "zero": false}, "axis": null}, "text": {"field": "txt"}}},
     {"transform": [{"filter": "datum.kind == 'hdr2'"}], "mark": {"type": "text", "fontStyle": "italic", "fontSize": 9.5, "baseline": "middle"},
      "encoding": {"x": {"field": "c0", "type": "quantitative", "scale": {"domain": [0,1,2], "range": [18.5,77.5,160.5], "nice": false, "zero": false}, "axis": null},
       "y": {"field": "r0", "type": "quantitative", "scale": {"domain": [0,1,2,3,4,5,6,7], "range": [7.5,38.5,70,86,102,117.5,132.5,147.5], "nice": false, "zero": false}, "axis": null}, "text": {"field": "txt"}}},
     {"transform": [{"filter": "datum.kind == 'sym'"}], "mark": {"type": "text", "font": "Liberation Serif", "fontStyle": "italic", "fontSize": 10.5, "baseline": "middle"},
      "encoding": {"x": {"field": "c0", "type": "quantitative", "scale": {"domain": [0,1,2], "range": [18.5,77.5,160.5], "nice": false, "zero": false}, "axis": null},
       "y": {"field": "r0", "type": "quantitative", "scale": {"domain": [0,1,2,3,4,5,6,7], "range": [7.5,38.5,70,86,102,117.5,132.5,147.5], "nice": false, "zero": false}, "axis": null}, "text": {"field": "txt"}}},
     {"transform": [{"filter": "datum.kind == 'num'"}], "mark": {"type": "text", "fontSize": 9.5, "align": "right", "baseline": "middle", "dx": -3},
      "encoding": {"x": {"field": "c1", "type": "quantitative", "scale": {"domain": [0,1,2,3], "range": [0,37,118,203], "nice": false, "zero": false}, "axis": null},
       "y": {"field": "r0", "type": "quantitative", "scale": {"domain": [0,1,2,3,4,5,6,7], "range": [7.5,38.5,70,86,102,117.5,132.5,147.5], "nice": false, "zero": false}, "axis": null}, "text": {"field": "txt"}}}
    ]}
  ]}
 ]},
 {"spacing": 10, "hconcat": [
  {"spacing": 5, "vconcat": [
   {"width": 164, "height": 34, "view": {"stroke": "#222", "strokeWidth": 1.5}, "data": {"name": "ser"}, "transform": [{"filter": "datum.p == 'b'"}],
    "mark": {"type": "text", "align": "left", "baseline": "middle", "lineBreak": "\n", "lineHeight": 13, "fontSize": 10},
    "encoding": {"x": {"datum": 4, "type": "quantitative", "scale": {"domain": [0, 164], "range": [0, 164], "nice": false, "zero": false}, "axis": null}, "text": {"field": "txt"}}},
   {"width": 164, "height": 276, "view": {"stroke": "#bbb", "strokeWidth": 1}, "data": {"name": "leg"}, "transform": [{"filter": "datum.p == 'b' || datum.p == '*'"}],
    "layer": [
     {"transform": [{"filter": "datum.p != '*'"}], "mark": {"type": "point", "filled": true, "size": 40, "strokeWidth": 1.3, "opacity": 1},
      "encoding": {"x": {"datum": 29, "type": "quantitative", "scale": {"domain": [0, 164], "range": [0, 164], "nice": false, "zero": false}, "axis": null},
       "y": {"field": "k", "type": "nominal", "scale": {"type": "point", "domain": ["b11","b21","b12","b22","model","sup","inf"], "range": [13, 253], "padding": 0}, "axis": null},
       "shape": {"field": "k", "type": "nominal", "legend": null, "scale": {"domain": ["a11","a21","a12","a22","b11","b21","b12","b22","c11","c21","c12","c22"], "range": ["diamond","square","diamond","square","triangle-up","M-1,-1L1,1M1,-1L-1,1M0,-1.2V1.2","triangle-up","M-1,0H1M0,-1V1","circle","diamond","circle","stroke"]}},
       "fill": {"field": "k", "type": "nominal", "legend": null, "scale": {"domain": ["a11","a21","a12","a22","b11","b21","b12","b22","c11","c21","c12","c22"], "range": ["#111111","#111111","#ffffff","#ffffff","#8c8c8c","transparent","#ffffff","transparent","#8c8c8c","#8c8c8c","#ffffff","transparent"]}},
       "stroke": {"field": "k", "type": "nominal", "legend": null, "scale": {"domain": ["a11","a21","a12","a22","b11","b21","b12","b22","c11","c21","c12","c22"], "range": ["#111111","#111111","#111111","#111111","#6e6e6e","#6e6e6e","#6e6e6e","#6e6e6e","#6e6e6e","#6e6e6e","#6e6e6e","#6e6e6e"]}}}},
     {"transform": [{"filter": "datum.k == 'model'"}], "mark": {"type": "rule", "color": "#555", "strokeWidth": 1.4, "strokeDash": [3, 3]},
      "encoding": {"x": {"datum": 7, "type": "quantitative"}, "x2": {"datum": 50}, "y": {"field": "k", "type": "nominal"}}},
     {"transform": [{"filter": "datum.k == 'sup'"}], "mark": {"type": "rule", "color": "#666", "strokeWidth": 1.1},
      "encoding": {"x": {"datum": 7, "type": "quantitative"}, "x2": {"datum": 50}, "y": {"field": "k", "type": "nominal"}}},
     {"transform": [{"filter": "datum.k == 'inf'"}], "mark": {"type": "rule", "color": "#666", "strokeWidth": 2.6},
      "encoding": {"x": {"datum": 7, "type": "quantitative"}, "x2": {"datum": 50}, "y": {"field": "k", "type": "nominal"}}},
     {"mark": {"type": "text", "align": "left", "baseline": "top", "dy": -5, "lineBreak": "\n", "lineHeight": 12.5, "fontSize": 9.5},
      "encoding": {"x": {"datum": 52, "type": "quantitative"}, "y": {"field": "k", "type": "nominal"}, "text": {"field": "txt"}}}
    ]}
  ]},
  {"spacing": 9, "vconcat": [
   {"width": 199, "height": 129, "view": {"stroke": "#333", "strokeWidth": 1.2}, "data": {"name": "tab"}, "transform": [{"filter": "(datum.p == 'b' || datum.p == '*') && datum.t == 1"}],
    "resolve": {"scale": {"x": "independent", "y": "independent"}},
    "layer": [
     {"mark": {"type": "rect", "fill": "white", "stroke": "#444", "strokeWidth": 1},
      "encoding": {"x": {"field": "c0", "type": "quantitative", "scale": {"domain": [0,1,2,3], "range": [0,36,116,199], "nice": false, "zero": false}, "axis": null}, "x2": {"field": "c1"},
       "y": {"field": "r0", "type": "quantitative", "scale": {"domain": [0,1,2,3,4,5,6,7], "range": [0,15,53,68,84,99,114,129], "nice": false, "zero": false}, "axis": null}, "y2": {"field": "r1"}}},
     {"transform": [{"filter": "datum.kind == 'hdr'"}], "mark": {"type": "text", "fontStyle": "italic", "fontSize": 9.5, "baseline": "middle"},
      "encoding": {"y": {"field": "r0", "type": "quantitative", "scale": {"domain": [0,1,2,3,4,5,6], "range": [7.5,34,60.5,76,91.5,106.5,121.5], "nice": false, "zero": false}, "axis": null}, "text": {"field": "txt"}}},
     {"transform": [{"filter": "datum.kind == 'fml'"}], "mark": {"type": "text", "font": "Liberation Serif", "fontStyle": "italic", "fontSize": 10, "baseline": "middle", "lineBreak": "\n", "lineHeight": 14},
      "encoding": {"y": {"field": "r0", "type": "quantitative", "scale": {"domain": [0,1,2,3,4,5,6], "range": [7.5,34,60.5,76,91.5,106.5,121.5], "nice": false, "zero": false}, "axis": null}, "text": {"field": "txt"}}},
     {"transform": [{"filter": "datum.kind == 'hdr2'"}], "mark": {"type": "text", "fontStyle": "italic", "fontSize": 9.5, "baseline": "middle"},
      "encoding": {"x": {"field": "c0", "type": "quantitative", "scale": {"domain": [0,1,2], "range": [18,76,157.5], "nice": false, "zero": false}, "axis": null},
       "y": {"field": "r0", "type": "quantitative", "scale": {"domain": [0,1,2,3,4,5,6], "range": [7.5,34,60.5,76,91.5,106.5,121.5], "nice": false, "zero": false}, "axis": null}, "text": {"field": "txt"}}},
     {"transform": [{"filter": "datum.kind == 'sym'"}], "mark": {"type": "text", "font": "Liberation Serif", "fontStyle": "italic", "fontSize": 10.5, "baseline": "middle"},
      "encoding": {"x": {"field": "c0", "type": "quantitative", "scale": {"domain": [0,1,2], "range": [18,76,157.5], "nice": false, "zero": false}, "axis": null},
       "y": {"field": "r0", "type": "quantitative", "scale": {"domain": [0,1,2,3,4,5,6], "range": [7.5,34,60.5,76,91.5,106.5,121.5], "nice": false, "zero": false}, "axis": null}, "text": {"field": "txt"}}},
     {"transform": [{"filter": "datum.kind == 'num'"}], "mark": {"type": "text", "fontSize": 9.5, "align": "right", "baseline": "middle", "dx": -3},
      "encoding": {"x": {"field": "c1", "type": "quantitative", "scale": {"domain": [0,1,2,3], "range": [0,36,116,199], "nice": false, "zero": false}, "axis": null},
       "y": {"field": "r0", "type": "quantitative", "scale": {"domain": [0,1,2,3,4,5,6], "range": [7.5,34,60.5,76,91.5,106.5,121.5], "nice": false, "zero": false}, "axis": null}, "text": {"field": "txt"}}}
    ]},
   {"width": 199, "height": 155, "view": {"stroke": "#333", "strokeWidth": 1.2}, "data": {"name": "tab"}, "transform": [{"filter": "(datum.p == 'b' || datum.p == '*') && datum.t == 2"}],
    "resolve": {"scale": {"x": "independent", "y": "independent"}},
    "layer": [
     {"mark": {"type": "rect", "fill": "white", "stroke": "#444", "strokeWidth": 1},
      "encoding": {"x": {"field": "c0", "type": "quantitative", "scale": {"domain": [0,1,2,3], "range": [0,36,116,199], "nice": false, "zero": false}, "axis": null}, "x2": {"field": "c1"},
       "y": {"field": "r0", "type": "quantitative", "scale": {"domain": [0,1,2,3,4,5,6,7,8], "range": [0,15,62,78,94,110,125,140,155], "nice": false, "zero": false}, "axis": null}, "y2": {"field": "r1"}}},
     {"transform": [{"filter": "datum.kind == 'hdr'"}], "mark": {"type": "text", "fontStyle": "italic", "fontSize": 9.5, "baseline": "middle"},
      "encoding": {"y": {"field": "r0", "type": "quantitative", "scale": {"domain": [0,1,2,3,4,5,6,7], "range": [7.5,38.5,70,86,102,117.5,132.5,147.5], "nice": false, "zero": false}, "axis": null}, "text": {"field": "txt"}}},
     {"transform": [{"filter": "datum.kind == 'fml'"}], "mark": {"type": "text", "font": "Liberation Serif", "fontStyle": "italic", "fontSize": 10, "baseline": "middle", "lineBreak": "\n", "lineHeight": 15},
      "encoding": {"y": {"field": "r0", "type": "quantitative", "scale": {"domain": [0,1,2,3,4,5,6,7], "range": [7.5,38.5,70,86,102,117.5,132.5,147.5], "nice": false, "zero": false}, "axis": null}, "text": {"field": "txt"}}},
     {"transform": [{"filter": "datum.kind == 'hdr2'"}], "mark": {"type": "text", "fontStyle": "italic", "fontSize": 9.5, "baseline": "middle"},
      "encoding": {"x": {"field": "c0", "type": "quantitative", "scale": {"domain": [0,1,2], "range": [18,76,157.5], "nice": false, "zero": false}, "axis": null},
       "y": {"field": "r0", "type": "quantitative", "scale": {"domain": [0,1,2,3,4,5,6,7], "range": [7.5,38.5,70,86,102,117.5,132.5,147.5], "nice": false, "zero": false}, "axis": null}, "text": {"field": "txt"}}},
     {"transform": [{"filter": "datum.kind == 'sym'"}], "mark": {"type": "text", "font": "Liberation Serif", "fontStyle": "italic", "fontSize": 10.5, "baseline": "middle"},
      "encoding": {"x": {"field": "c0", "type": "quantitative", "scale": {"domain": [0,1,2], "range": [18,76,157.5], "nice": false, "zero": false}, "axis": null},
       "y": {"field": "r0", "type": "quantitative", "scale": {"domain": [0,1,2,3,4,5,6,7], "range": [7.5,38.5,70,86,102,117.5,132.5,147.5], "nice": false, "zero": false}, "axis": null}, "text": {"field": "txt"}}},
     {"transform": [{"filter": "datum.kind == 'num'"}], "mark": {"type": "text", "fontSize": 9.5, "align": "right", "baseline": "middle", "dx": -3},
      "encoding": {"x": {"field": "c1", "type": "quantitative", "scale": {"domain": [0,1,2,3], "range": [0,36,116,199], "nice": false, "zero": false}, "axis": null},
       "y": {"field": "r0", "type": "quantitative", "scale": {"domain": [0,1,2,3,4,5,6,7], "range": [7.5,38.5,70,86,102,117.5,132.5,147.5], "nice": false, "zero": false}, "axis": null}, "text": {"field": "txt"}}}
    ]}
  ]}
 ]},
 {"spacing": 10, "hconcat": [
  {"spacing": 5, "vconcat": [
   {"width": 164, "height": 34, "view": {"stroke": "#222", "strokeWidth": 1.5}, "data": {"name": "ser"}, "transform": [{"filter": "datum.p == 'c'"}],
    "mark": {"type": "text", "align": "left", "baseline": "middle", "lineBreak": "\n", "lineHeight": 13, "fontSize": 10},
    "encoding": {"x": {"datum": 4, "type": "quantitative", "scale": {"domain": [0, 164], "range": [0, 164], "nice": false, "zero": false}, "axis": null}, "text": {"field": "txt"}}},
   {"width": 164, "height": 276, "view": {"stroke": "#bbb", "strokeWidth": 1}, "data": {"name": "leg"}, "transform": [{"filter": "datum.p == 'c' || datum.p == '*'"}],
    "layer": [
     {"transform": [{"filter": "datum.p != '*'"}], "mark": {"type": "point", "filled": true, "size": 40, "strokeWidth": 1.3, "opacity": 1},
      "encoding": {"x": {"datum": 29, "type": "quantitative", "scale": {"domain": [0, 164], "range": [0, 164], "nice": false, "zero": false}, "axis": null},
       "y": {"field": "k", "type": "nominal", "scale": {"type": "point", "domain": ["c11","c21","c12","c22","model","sup","inf"], "range": [13, 253], "padding": 0}, "axis": null},
       "shape": {"field": "k", "type": "nominal", "legend": null, "scale": {"domain": ["a11","a21","a12","a22","b11","b21","b12","b22","c11","c21","c12","c22"], "range": ["diamond","square","diamond","square","triangle-up","M-1,-1L1,1M1,-1L-1,1M0,-1.2V1.2","triangle-up","M-1,0H1M0,-1V1","circle","diamond","circle","stroke"]}},
       "fill": {"field": "k", "type": "nominal", "legend": null, "scale": {"domain": ["a11","a21","a12","a22","b11","b21","b12","b22","c11","c21","c12","c22"], "range": ["#111111","#111111","#ffffff","#ffffff","#8c8c8c","transparent","#ffffff","transparent","#8c8c8c","#8c8c8c","#ffffff","transparent"]}},
       "stroke": {"field": "k", "type": "nominal", "legend": null, "scale": {"domain": ["a11","a21","a12","a22","b11","b21","b12","b22","c11","c21","c12","c22"], "range": ["#111111","#111111","#111111","#111111","#6e6e6e","#6e6e6e","#6e6e6e","#6e6e6e","#6e6e6e","#6e6e6e","#6e6e6e","#6e6e6e"]}}}},
     {"transform": [{"filter": "datum.k == 'model'"}], "mark": {"type": "rule", "color": "#555", "strokeWidth": 1.4, "strokeDash": [3, 3]},
      "encoding": {"x": {"datum": 7, "type": "quantitative"}, "x2": {"datum": 50}, "y": {"field": "k", "type": "nominal"}}},
     {"transform": [{"filter": "datum.k == 'sup'"}], "mark": {"type": "rule", "color": "#666", "strokeWidth": 1.1},
      "encoding": {"x": {"datum": 7, "type": "quantitative"}, "x2": {"datum": 50}, "y": {"field": "k", "type": "nominal"}}},
     {"transform": [{"filter": "datum.k == 'inf'"}], "mark": {"type": "rule", "color": "#666", "strokeWidth": 2.6},
      "encoding": {"x": {"datum": 7, "type": "quantitative"}, "x2": {"datum": 50}, "y": {"field": "k", "type": "nominal"}}},
     {"mark": {"type": "text", "align": "left", "baseline": "top", "dy": -5, "lineBreak": "\n", "lineHeight": 12.5, "fontSize": 9.5},
      "encoding": {"x": {"datum": 52, "type": "quantitative"}, "y": {"field": "k", "type": "nominal"}, "text": {"field": "txt"}}}
    ]}
  ]},
  {"spacing": 9, "vconcat": [
   {"width": 200, "height": 129, "view": {"stroke": "#333", "strokeWidth": 1.2}, "data": {"name": "tab"}, "transform": [{"filter": "(datum.p == 'c' || datum.p == '*') && datum.t == 1"}],
    "resolve": {"scale": {"x": "independent", "y": "independent"}},
    "layer": [
     {"mark": {"type": "rect", "fill": "white", "stroke": "#444", "strokeWidth": 1},
      "encoding": {"x": {"field": "c0", "type": "quantitative", "scale": {"domain": [0,1,2,3], "range": [0,36,115,200], "nice": false, "zero": false}, "axis": null}, "x2": {"field": "c1"},
       "y": {"field": "r0", "type": "quantitative", "scale": {"domain": [0,1,2,3,4,5,6,7], "range": [0,15,53,68,84,99,114,129], "nice": false, "zero": false}, "axis": null}, "y2": {"field": "r1"}}},
     {"transform": [{"filter": "datum.kind == 'hdr'"}], "mark": {"type": "text", "fontStyle": "italic", "fontSize": 9.5, "baseline": "middle"},
      "encoding": {"y": {"field": "r0", "type": "quantitative", "scale": {"domain": [0,1,2,3,4,5,6], "range": [7.5,34,60.5,76,91.5,106.5,121.5], "nice": false, "zero": false}, "axis": null}, "text": {"field": "txt"}}},
     {"transform": [{"filter": "datum.kind == 'fml'"}], "mark": {"type": "text", "font": "Liberation Serif", "fontStyle": "italic", "fontSize": 10, "baseline": "middle", "lineBreak": "\n", "lineHeight": 14},
      "encoding": {"y": {"field": "r0", "type": "quantitative", "scale": {"domain": [0,1,2,3,4,5,6], "range": [7.5,34,60.5,76,91.5,106.5,121.5], "nice": false, "zero": false}, "axis": null}, "text": {"field": "txt"}}},
     {"transform": [{"filter": "datum.kind == 'hdr2'"}], "mark": {"type": "text", "fontStyle": "italic", "fontSize": 9.5, "baseline": "middle"},
      "encoding": {"x": {"field": "c0", "type": "quantitative", "scale": {"domain": [0,1,2], "range": [18,75.5,157.5], "nice": false, "zero": false}, "axis": null},
       "y": {"field": "r0", "type": "quantitative", "scale": {"domain": [0,1,2,3,4,5,6], "range": [7.5,34,60.5,76,91.5,106.5,121.5], "nice": false, "zero": false}, "axis": null}, "text": {"field": "txt"}}},
     {"transform": [{"filter": "datum.kind == 'sym'"}], "mark": {"type": "text", "font": "Liberation Serif", "fontStyle": "italic", "fontSize": 10.5, "baseline": "middle"},
      "encoding": {"x": {"field": "c0", "type": "quantitative", "scale": {"domain": [0,1,2], "range": [18,75.5,157.5], "nice": false, "zero": false}, "axis": null},
       "y": {"field": "r0", "type": "quantitative", "scale": {"domain": [0,1,2,3,4,5,6], "range": [7.5,34,60.5,76,91.5,106.5,121.5], "nice": false, "zero": false}, "axis": null}, "text": {"field": "txt"}}},
     {"transform": [{"filter": "datum.kind == 'num'"}], "mark": {"type": "text", "fontSize": 9.5, "align": "right", "baseline": "middle", "dx": -3},
      "encoding": {"x": {"field": "c1", "type": "quantitative", "scale": {"domain": [0,1,2,3], "range": [0,36,115,200], "nice": false, "zero": false}, "axis": null},
       "y": {"field": "r0", "type": "quantitative", "scale": {"domain": [0,1,2,3,4,5,6], "range": [7.5,34,60.5,76,91.5,106.5,121.5], "nice": false, "zero": false}, "axis": null}, "text": {"field": "txt"}}}
    ]},
   {"width": 200, "height": 155, "view": {"stroke": "#333", "strokeWidth": 1.2}, "data": {"name": "tab"}, "transform": [{"filter": "(datum.p == 'c' || datum.p == '*') && datum.t == 2"}],
    "resolve": {"scale": {"x": "independent", "y": "independent"}},
    "layer": [
     {"mark": {"type": "rect", "fill": "white", "stroke": "#444", "strokeWidth": 1},
      "encoding": {"x": {"field": "c0", "type": "quantitative", "scale": {"domain": [0,1,2,3], "range": [0,36,115,200], "nice": false, "zero": false}, "axis": null}, "x2": {"field": "c1"},
       "y": {"field": "r0", "type": "quantitative", "scale": {"domain": [0,1,2,3,4,5,6,7,8], "range": [0,15,62,78,94,110,125,140,155], "nice": false, "zero": false}, "axis": null}, "y2": {"field": "r1"}}},
     {"transform": [{"filter": "datum.kind == 'hdr'"}], "mark": {"type": "text", "fontStyle": "italic", "fontSize": 9.5, "baseline": "middle"},
      "encoding": {"y": {"field": "r0", "type": "quantitative", "scale": {"domain": [0,1,2,3,4,5,6,7], "range": [7.5,38.5,70,86,102,117.5,132.5,147.5], "nice": false, "zero": false}, "axis": null}, "text": {"field": "txt"}}},
     {"transform": [{"filter": "datum.kind == 'fml'"}], "mark": {"type": "text", "font": "Liberation Serif", "fontStyle": "italic", "fontSize": 10, "baseline": "middle", "lineBreak": "\n", "lineHeight": 15},
      "encoding": {"y": {"field": "r0", "type": "quantitative", "scale": {"domain": [0,1,2,3,4,5,6,7], "range": [7.5,38.5,70,86,102,117.5,132.5,147.5], "nice": false, "zero": false}, "axis": null}, "text": {"field": "txt"}}},
     {"transform": [{"filter": "datum.kind == 'hdr2'"}], "mark": {"type": "text", "fontStyle": "italic", "fontSize": 9.5, "baseline": "middle"},
      "encoding": {"x": {"field": "c0", "type": "quantitative", "scale": {"domain": [0,1,2], "range": [18,75.5,157.5], "nice": false, "zero": false}, "axis": null},
       "y": {"field": "r0", "type": "quantitative", "scale": {"domain": [0,1,2,3,4,5,6,7], "range": [7.5,38.5,70,86,102,117.5,132.5,147.5], "nice": false, "zero": false}, "axis": null}, "text": {"field": "txt"}}},
     {"transform": [{"filter": "datum.kind == 'sym'"}], "mark": {"type": "text", "font": "Liberation Serif", "fontStyle": "italic", "fontSize": 10.5, "baseline": "middle"},
      "encoding": {"x": {"field": "c0", "type": "quantitative", "scale": {"domain": [0,1,2], "range": [18,75.5,157.5], "nice": false, "zero": false}, "axis": null},
       "y": {"field": "r0", "type": "quantitative", "scale": {"domain": [0,1,2,3,4,5,6,7], "range": [7.5,38.5,70,86,102,117.5,132.5,147.5], "nice": false, "zero": false}, "axis": null}, "text": {"field": "txt"}}},
     {"transform": [{"filter": "datum.kind == 'num'"}], "mark": {"type": "text", "fontSize": 9.5, "align": "right", "baseline": "middle", "dx": -3},
      "encoding": {"x": {"field": "c1", "type": "quantitative", "scale": {"domain": [0,1,2,3], "range": [0,36,115,200], "nice": false, "zero": false}, "axis": null},
       "y": {"field": "r0", "type": "quantitative", "scale": {"domain": [0,1,2,3,4,5,6,7], "range": [7.5,38.5,70,86,102,117.5,132.5,147.5], "nice": false, "zero": false}, "axis": null}, "text": {"field": "txt"}}}
    ]}
  ]}
 ]}
]
}
]
}
